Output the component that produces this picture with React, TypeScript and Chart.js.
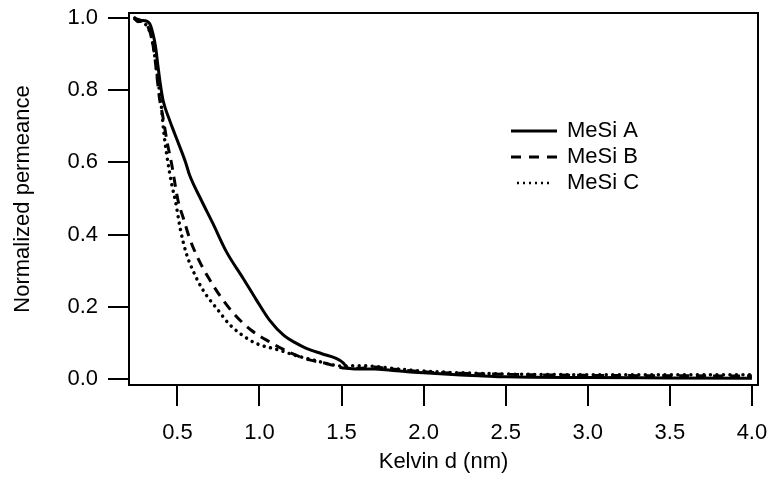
import React, { useEffect, useRef } from "react";
import { Chart, registerables } from "chart.js";

Chart.register(...registerables);

const X_TICKS = [0.5, 1.0, 1.5, 2.0, 2.5, 3.0, 3.5, 4.0];
const Y_TICKS = [0, 0.2, 0.4, 0.6, 0.8, 1.0];
const SERIES_NAMES = ["MeSi A", "MeSi B", "MeSi C"];

const A_X = [0.235, 0.26, 0.29, 0.33, 0.35, 0.367, 0.382, 0.395, 0.412, 0.45, 0.483, 0.55, 0.574, 0.645, 0.716, 0.798, 0.899, 0.98, 1.061, 1.15, 1.22, 1.285, 1.38, 1.467, 1.51, 1.538, 1.6, 1.7, 1.8, 1.9, 2.0, 2.2, 2.5, 3.0, 3.5, 4.0];
const A_Y = [1.0, 0.99, 0.993, 0.985, 0.958, 0.92, 0.865, 0.82, 0.773, 0.72, 0.68, 0.6, 0.565, 0.496, 0.431, 0.353, 0.28, 0.22, 0.163, 0.12, 0.1, 0.085, 0.07, 0.057, 0.045, 0.03, 0.028, 0.028, 0.024, 0.02, 0.017, 0.012, 0.006, 0.004, 0.003, 0.002];

const B_X = [0.235, 0.27, 0.31, 0.34, 0.36, 0.375, 0.39, 0.41, 0.44, 0.463, 0.503, 0.54, 0.574, 0.63, 0.686, 0.76, 0.838, 0.95, 1.061, 1.2, 1.305, 1.406, 1.528, 1.6, 1.7, 1.8, 2.0, 2.2, 2.5, 3.0, 3.5, 4.0];
const B_Y = [1.0, 0.995, 0.985, 0.95, 0.9, 0.84, 0.78, 0.73, 0.65, 0.6, 0.496, 0.44, 0.39, 0.33, 0.283, 0.23, 0.184, 0.135, 0.103, 0.07, 0.053, 0.043, 0.03, 0.03, 0.033, 0.028, 0.02, 0.016, 0.013, 0.01, 0.009, 0.008];

const C_X = [0.24, 0.28, 0.31, 0.34, 0.36, 0.38, 0.398, 0.418, 0.442, 0.465, 0.489, 0.52, 0.554, 0.6, 0.655, 0.747, 0.82, 0.94, 1.0, 1.122, 1.2, 1.325, 1.507, 1.6, 1.7, 1.8, 2.0, 2.5, 3.0, 3.5, 4.0];
const C_Y = [1.0, 0.99, 0.98, 0.95, 0.9, 0.83, 0.773, 0.68, 0.6, 0.54, 0.49, 0.41, 0.348, 0.295, 0.247, 0.191, 0.15, 0.108, 0.095, 0.08, 0.068, 0.053, 0.036, 0.037, 0.035, 0.03, 0.022, 0.014, 0.012, 0.012, 0.012];

const FONT = "'Liberation Sans', Arial, Helvetica, sans-serif";
const FONT_SIZE = 22;

export default function App() {
  const ref = useRef<HTMLCanvasElement | null>(null);

  useEffect(() => {
    if (!ref.current) return;
    const toPts = (xs: number[], ys: number[]) => xs.map((x, i) => ({ x, y: ys[i] }));

    const legendStyles = [
      { dash: [] as number[], width: 3, x0: 511, x1: 557, cap: "butt" },
      { dash: [10, 8], width: 3, x0: 511, x1: 557, cap: "butt" },
      { dash: [2, 4], width: 2.4, x0: 517, x1: 553, cap: "butt" },
    ];

    const boxPlugin = {
      id: "boxAndLegend",
      afterDraw(chart: any) {
        const { ctx, chartArea } = chart;
        ctx.save();
        ctx.strokeStyle = "#000";
        ctx.lineWidth = 2;
        ctx.setLineDash([]);
        ctx.strokeRect(chartArea.left, chartArea.top, chartArea.right - chartArea.left, chartArea.bottom - chartArea.top);
        ctx.font = `${FONT_SIZE}px ${FONT}`;
        ctx.fillStyle = "#000";
        ctx.textBaseline = "middle";
        ctx.textAlign = "left";
        SERIES_NAMES.forEach((name, i) => {
          const st = legendStyles[i];
          const y = 131 + i * 26;
          ctx.beginPath();
          ctx.lineWidth = st.width;
          ctx.lineCap = st.cap;
          ctx.setLineDash(st.dash);
          ctx.moveTo(st.x0, y);
          ctx.lineTo(st.x1, y);
          ctx.stroke();
          ctx.setLineDash([]);
          ctx.fillText(name, 567, y);
        });
        ctx.restore();
      },
    };

    const chart = new Chart(ref.current, {
      type: "line",
      data: {
        datasets: [
          {
            label: SERIES_NAMES[0],
            data: toPts(A_X, A_Y),
            borderColor: "#000",
            borderWidth: 3,
            cubicInterpolationMode: "monotone",
          },
          {
            label: SERIES_NAMES[1],
            data: toPts(B_X, B_Y),
            borderColor: "#000",
            borderWidth: 3,
            borderDash: [10, 7],
            cubicInterpolationMode: "monotone",
          },
          {
            label: SERIES_NAMES[2],
            data: toPts(C_X, C_Y),
            borderColor: "#000",
            borderWidth: 3.5,
            borderDash: [0.01, 6.5],
            borderCapStyle: "round",
            cubicInterpolationMode: "monotone",
          },
        ],
      },
      options: {
        responsive: false,
        animation: false,
        devicePixelRatio: 1,
        layout: { padding: { top: 13, right: 14, left: 0, bottom: 0 } },
        plugins: { legend: { display: false }, tooltip: { enabled: false } },
        elements: { point: { radius: 0 } },
        scales: {
          x: {
            type: "linear",
            min: 0.205,
            max: 4.037,
            afterFit(s: any) {
              s.height = 96;
              s.paddingLeft = 0;
              s.paddingRight = 0;
              s.paddingTop = 0;
              s.paddingBottom = 0;
            },
            afterBuildTicks(s: any) {
              s.ticks = X_TICKS.map((v) => ({ value: v }));
            },
            grid: { drawOnChartArea: false, drawTicks: true, tickLength: 21, lineWidth: 2, color: "#000" },
            border: { display: false },
            ticks: {
              padding: 14,
              color: "#000",
              font: { family: FONT, size: FONT_SIZE },
              maxRotation: 0,
              autoSkip: false,
              callback: (v: any) => Number(v).toFixed(1),
            },
            title: {
              display: true,
              text: "Kelvin d (nm)",
              color: "#000",
              font: { family: FONT, size: FONT_SIZE },
              padding: { top: 0, bottom: 6 },
            },
          },
          y: {
            type: "linear",
            min: -0.0166,
            max: 1.014,
            afterFit(s: any) {
              s.width = 129;
              s.paddingLeft = 0;
              s.paddingRight = 0;
              s.paddingTop = 0;
              s.paddingBottom = 0;
            },
            afterBuildTicks(s: any) {
              s.ticks = Y_TICKS.map((v) => ({ value: v }));
            },
            grid: { drawOnChartArea: false, drawTicks: true, tickLength: 21, lineWidth: 2, color: "#000" },
            border: { display: false },
            ticks: {
              padding: 10,
              color: "#000",
              font: { family: FONT, size: FONT_SIZE },
              autoSkip: false,
              callback: (v: any) => Number(v).toFixed(1),
            },
            title: {
              display: true,
              text: "Normalized permeance",
              color: "#000",
              font: { family: FONT, size: FONT_SIZE },
              padding: { top: 10, bottom: 0 },
            },
          },
        },
      },
      plugins: [boxPlugin],
    } as any);

    return () => chart.destroy();
  }, []);

  return (
    <div style={{ position: "fixed", left: 0, top: 0, width: 772, height: 481, background: "#fff" }}>
      <canvas ref={ref} width={772} height={481} style={{ display: "block" }} />
    </div>
  );
}
